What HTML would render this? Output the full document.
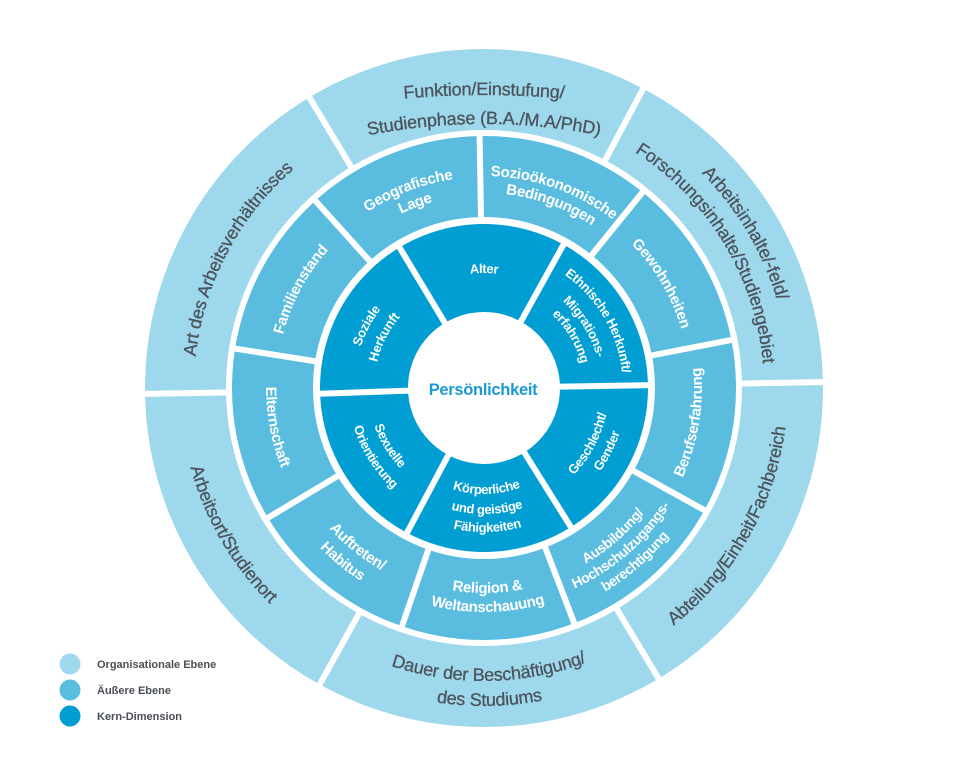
<!DOCTYPE html>
<html><head><meta charset="utf-8"><style>
html,body{margin:0;padding:0;background:#fff;}
svg{display:block;}
.o{font-family:"Liberation Sans",sans-serif;font-size:18px;fill:#4d535a;stroke:#4d535a;stroke-width:0.3px;letter-spacing:-0.2px;}
.m{font-family:"Liberation Sans",sans-serif;font-size:15px;font-weight:bold;fill:#fff;letter-spacing:-0.3px;}
.ms{font-size:14px;}
.k{font-family:"Liberation Sans",sans-serif;font-size:13px;font-weight:bold;fill:#fff;letter-spacing:-0.3px;}
.lg{font-family:"Liberation Sans",sans-serif;font-size:11px;font-weight:bold;fill:#4a4f55;}
</style></head><body>
<svg width="977" height="781" viewBox="0 0 977 781" xmlns="http://www.w3.org/2000/svg">
<defs>
<path id="f1" d="M -300 51.5 A 900 900 0 0 1 300 51.5"/>
<path id="f2" d="M -300 80.4 A 600 600 0 0 1 300 80.4"/>
<path id="c306" d="M -306 0 A 306 306 0 0 1 306 0"/>
<path id="c280" d="M -280 0 A 280 280 0 0 1 280 0"/>
<path id="c290" d="M -290 0 A 290 290 0 0 1 290 0"/>
<path id="c211" d="M -211 0 A 211 211 0 0 1 211 0"/>
<path id="c193" d="M -193 0 A 193 193 0 0 1 193 0"/>
<path id="c212" d="M -212 0 A 212 212 0 0 1 212 0"/>
<path id="c195" d="M -195 0 A 195 195 0 0 1 195 0"/>
<path id="c206" d="M -206 0 A 206 206 0 0 1 206 0"/>
<path id="c208" d="M -208 0 A 208 208 0 0 1 208 0"/>
<path id="c115" d="M -115 0 A 115 115 0 0 1 115 0"/>
<path id="c139" d="M -139 0 A 139 139 0 0 1 139 0"/>
<path id="c117" d="M -117 0 A 117 117 0 0 1 117 0"/>
<path id="c100" d="M -100 0 A 100 100 0 0 1 100 0"/>
<path id="c130" d="M -130 0 A 130 130 0 0 1 130 0"/>
<path id="c110" d="M -110 0 A 110 110 0 0 1 110 0"/>
<path id="a304" d="M -304 0 A 304 304 0 0 0 304 0"/>
<path id="a293" d="M -293 0 A 293 293 0 0 0 293 0"/>
<path id="a318" d="M -318 0 A 318 318 0 0 0 318 0"/>
<path id="a218" d="M -218 0 A 218 218 0 0 0 218 0"/>
<path id="a203" d="M -203 0 A 203 203 0 0 0 203 0"/>
<path id="a220" d="M -220 0 A 220 220 0 0 0 220 0"/>
<path id="a237" d="M -237 0 A 237 237 0 0 0 237 0"/>
<path id="a205" d="M -205 0 A 205 205 0 0 0 205 0"/>
<path id="a224" d="M -224 0 A 224 224 0 0 0 224 0"/>
<path id="a209" d="M -209 0 A 209 209 0 0 0 209 0"/>
<path id="a229" d="M -229 0 A 229 229 0 0 0 229 0"/>
<path id="a125" d="M -125 0 A 125 125 0 0 0 125 0"/>
<path id="a143" d="M -143 0 A 143 143 0 0 0 143 0"/>
<path id="a106" d="M -106 0 A 106 106 0 0 0 106 0"/>
<path id="a126" d="M -126 0 A 126 126 0 0 0 126 0"/>
<path id="a144" d="M -144 0 A 144 144 0 0 0 144 0"/>
<path id="a116" d="M -116 0 A 116 116 0 0 0 116 0"/>
<path id="a136" d="M -136 0 A 136 136 0 0 0 136 0"/>
</defs>

<g transform="translate(484 388)">
  <circle r="298.5" fill="none" stroke="#9dd8ed" stroke-width="81"/>
  <circle r="211.5" fill="none" stroke="#5abde0" stroke-width="81"/>
  <circle r="120" fill="none" stroke="#009ed2" stroke-width="88"/>
  <g stroke="#fff" stroke-width="6">
    <line x1="0" y1="-254" x2="0" y2="-345" transform="rotate(329)"/>
    <line x1="0" y1="-254" x2="0" y2="-345" transform="rotate(28)"/>
    <line x1="0" y1="-254" x2="0" y2="-345" transform="rotate(89)"/>
    <line x1="0" y1="-254" x2="0" y2="-345" transform="rotate(149)"/>
    <line x1="0" y1="-254" x2="0" y2="-345" transform="rotate(209)"/>
    <line x1="0" y1="-254" x2="0" y2="-345" transform="rotate(269)"/>

    <line x1="0" y1="-167" x2="0" y2="-256" transform="rotate(359)"/>
    <line x1="0" y1="-167" x2="0" y2="-256" transform="rotate(39)"/>
    <line x1="0" y1="-167" x2="0" y2="-256" transform="rotate(79)"/>
    <line x1="0" y1="-167" x2="0" y2="-256" transform="rotate(119)"/>
    <line x1="0" y1="-167" x2="0" y2="-256" transform="rotate(159)"/>
    <line x1="0" y1="-167" x2="0" y2="-256" transform="rotate(199)"/>
    <line x1="0" y1="-167" x2="0" y2="-256" transform="rotate(239)"/>
    <line x1="0" y1="-167" x2="0" y2="-256" transform="rotate(279)"/>
    <line x1="0" y1="-167" x2="0" y2="-256" transform="rotate(318)"/>

    <line x1="0" y1="-72" x2="0" y2="-168" transform="rotate(329)"/>
    <line x1="0" y1="-72" x2="0" y2="-168" transform="rotate(29)"/>
    <line x1="0" y1="-72" x2="0" y2="-168" transform="rotate(89)"/>
    <line x1="0" y1="-72" x2="0" y2="-168" transform="rotate(148)"/>
    <line x1="0" y1="-72" x2="0" y2="-168" transform="rotate(208)"/>
    <line x1="0" y1="-72" x2="0" y2="-168" transform="rotate(268)"/>
  </g>
</g>

<!-- Outer ring labels -->
<text class="o" text-anchor="middle" transform="translate(484 95)"><textPath href="#f1" startOffset="50%">Funktion/Einstufung/</textPath></text>
<text class="o" text-anchor="middle" transform="translate(484 124)"><textPath href="#f2" startOffset="50%">Studienphase (B.A./M.A/PhD)</textPath></text>
<text class="o" text-anchor="middle" transform="translate(484 388) rotate(59.4)"><textPath href="#c306" startOffset="50%">Arbeitsinhalte/-feld/</textPath></text>
<text class="o" text-anchor="middle" transform="translate(484 388) rotate(58.8)"><textPath href="#c280" startOffset="50%">Forschungsinhalte/Studiengebiet</textPath></text>
<text class="o" text-anchor="middle" transform="translate(484 388) rotate(-60.6)"><textPath href="#a304" startOffset="50%">Abteilung/Einheit/Fachbereich</textPath></text>
<text class="o" text-anchor="middle" transform="translate(484 388) rotate(-1)"><textPath href="#a293" startOffset="50%">Dauer der Beschäftigung/</textPath></text>
<text class="o" text-anchor="middle" transform="translate(484 388) rotate(-1)"><textPath href="#a318" startOffset="50%">des Studiums</textPath></text>
<text class="o" text-anchor="middle" transform="translate(484 388) rotate(59.8)"><textPath href="#a304" startOffset="50%">Arbeitsort/Studienort</textPath></text>
<text class="o" text-anchor="middle" transform="translate(484 388) rotate(297.6)"><textPath href="#c290" startOffset="50%">Art des Arbeitsverhältnisses</textPath></text>

<!-- Middle ring labels -->
<text class="m" text-anchor="middle" transform="translate(484 388) rotate(339)"><textPath href="#c211" startOffset="50%">Geografische</textPath></text>
<text class="m" text-anchor="middle" transform="translate(484 388) rotate(339.5)"><textPath href="#c193" startOffset="50%">Lage</textPath></text>
<text class="m" text-anchor="middle" transform="translate(484 388) rotate(19.6)"><textPath href="#c212" startOffset="50%">Sozioökonomische</textPath></text>
<text class="m" text-anchor="middle" transform="translate(484 388) rotate(20)"><textPath href="#c195" startOffset="50%">Bedingungen</textPath></text>
<text class="m" text-anchor="middle" transform="translate(484 388) rotate(59.5)"><textPath href="#c206" startOffset="50%">Gewohnheiten</textPath></text>
<text class="m" text-anchor="middle" transform="translate(484 388) rotate(-80.5)"><textPath href="#a218" startOffset="50%">Berufserfahrung</textPath></text>
<text class="m ms" text-anchor="middle" transform="translate(484 388) rotate(-41)"><textPath href="#a203" startOffset="50%">Ausbildung/</textPath></text>
<text class="m ms" text-anchor="middle" transform="translate(484 388) rotate(-41)"><textPath href="#a220" startOffset="50%">Hochschulzugangs-</textPath></text>
<text class="m ms" text-anchor="middle" transform="translate(484 388) rotate(-41)"><textPath href="#a237" startOffset="50%">berechtigung</textPath></text>
<text class="m" text-anchor="middle" transform="translate(484 388) rotate(-1)"><textPath href="#a205" startOffset="50%">Religion &amp;</textPath></text>
<text class="m" text-anchor="middle" transform="translate(484 388) rotate(-1)"><textPath href="#a224" startOffset="50%">Weltanschauung</textPath></text>
<text class="m" text-anchor="middle" transform="translate(484 388) rotate(38.5)"><textPath href="#a209" startOffset="50%">Auftreten/</textPath></text>
<text class="m" text-anchor="middle" transform="translate(484 388) rotate(39.2)"><textPath href="#a229" startOffset="50%">Habitus</textPath></text>
<text class="m" text-anchor="middle" transform="translate(484 388) rotate(79.4)"><textPath href="#a218" startOffset="50%">Elternschaft</textPath></text>
<text class="m" text-anchor="middle" transform="translate(484 388) rotate(298.2)"><textPath href="#c208" startOffset="50%">Familienstand</textPath></text>

<!-- Core ring labels -->
<text class="k" text-anchor="middle" transform="translate(484 388) rotate(0)"><textPath href="#c115" startOffset="50%">Alter</textPath></text>
<text class="k" text-anchor="middle" transform="translate(484 388) rotate(59.6)"><textPath href="#c139" startOffset="50%">Ethnische Herkunft/</textPath></text>
<text class="k" text-anchor="middle" transform="translate(484 388) rotate(58.5)"><textPath href="#c117" startOffset="50%">Migrations-</textPath></text>
<text class="k" text-anchor="middle" transform="translate(484 388) rotate(59.3)"><textPath href="#c100" startOffset="50%">erfahrung</textPath></text>
<text class="k" text-anchor="middle" transform="translate(484 388) rotate(-61.9)"><textPath href="#a125" startOffset="50%">Geschlecht/</textPath></text>
<text class="k" text-anchor="middle" transform="translate(484 388) rotate(-63)"><textPath href="#a143" startOffset="50%">Gender</textPath></text>
<text class="k" text-anchor="middle" transform="translate(484 388) rotate(-1.4)"><textPath href="#a106" startOffset="50%">Körperliche</textPath></text>
<text class="k" text-anchor="middle" transform="translate(484 388) rotate(-1.4)"><textPath href="#a126" startOffset="50%">und geistige</textPath></text>
<text class="k" text-anchor="middle" transform="translate(484 388) rotate(-1.4)"><textPath href="#a144" startOffset="50%">Fähigkeiten</textPath></text>
<text class="k" text-anchor="middle" transform="translate(484 388) rotate(58.6)"><textPath href="#a116" startOffset="50%">Sexuelle</textPath></text>
<text class="k" text-anchor="middle" transform="translate(484 388) rotate(57.7)"><textPath href="#a136" startOffset="50%">Orientierung</textPath></text>
<text class="k" text-anchor="middle" transform="translate(484 388) rotate(297.9)"><textPath href="#c130" startOffset="50%">Soziale</textPath></text>
<text class="k" text-anchor="middle" transform="translate(484 388) rotate(296.8)"><textPath href="#c110" startOffset="50%">Herkunft</textPath></text>

<!-- Center -->
<text x="483" y="395" text-anchor="middle" font-family="'Liberation Sans', sans-serif" font-size="16.5" font-weight="bold" fill="#1b9ad6" letter-spacing="-0.3">Persönlichkeit</text>

<!-- Legend -->
<circle cx="70" cy="664" r="10.5" fill="#9dd8ed"/>
<circle cx="70" cy="690" r="10.5" fill="#5abde0"/>
<circle cx="70" cy="716" r="10.5" fill="#009ed2"/>
<text class="lg" x="97" y="668">Organisationale Ebene</text>
<text class="lg" x="97" y="694">Äußere Ebene</text>
<text class="lg" x="97" y="720">Kern-Dimension</text>
</svg>
</body></html>
